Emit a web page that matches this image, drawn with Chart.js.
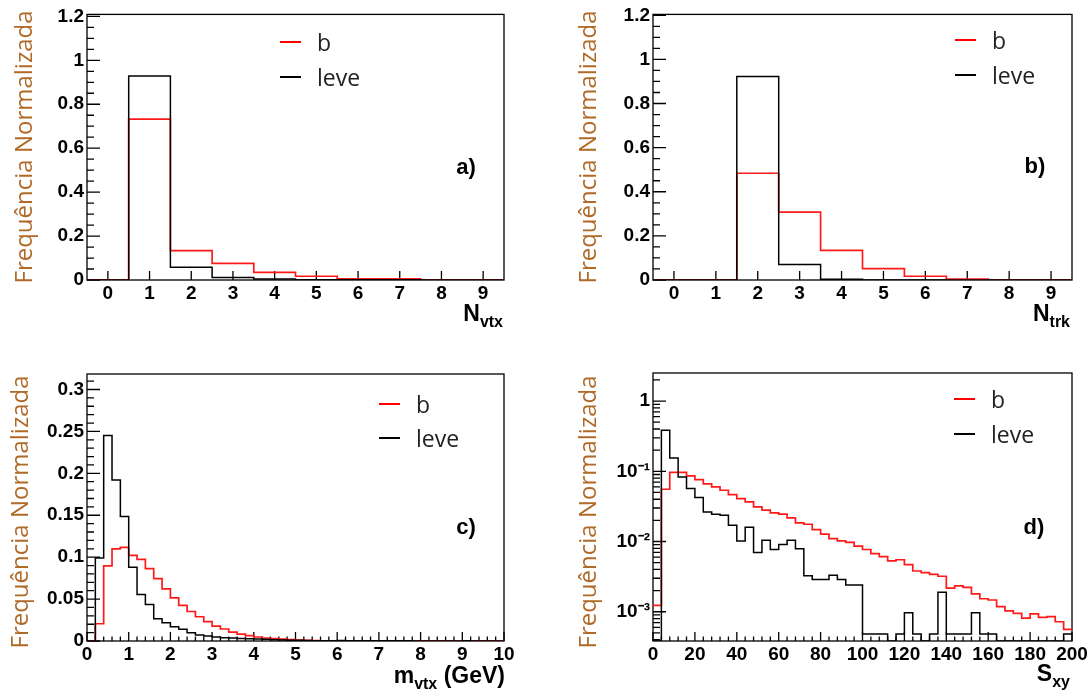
<!DOCTYPE html>
<html>
<head>
<meta charset="utf-8">
<script src="https://cdn.jsdelivr.net/npm/chart.js@4.4.1/dist/chart.umd.min.js"></script>
<style>
  body { margin: 0; background: #fff; }
  #page { position: relative; width: 1092px; height: 694px; overflow: hidden; background: #fff; }
  .pane { position: absolute; width: 546px; height: 347px; }
  .ytitle { position: absolute; transform: translate(-50%, -50%) rotate(-90deg); font: 24px "Open Sans", sans-serif;
            color: #b06a28; white-space: nowrap; line-height: 1; }
  .row { position: absolute; height: 0; }
  .row i { position: absolute; left: 0; top: -1px; width: 21px; height: 2px; }
  .row span { position: absolute; left: 37px; top: -16px; line-height: 32px; font: 23px "Open Sans", sans-serif; color: #222; white-space: nowrap; }
  .tag { position: absolute; transform: translate(-50%, -50%); font: bold 22px "Liberation Sans", sans-serif; }
  .xt { position: absolute; font: bold 23px "Liberation Sans", sans-serif; line-height: 23px; white-space: nowrap; }
  .xt sub { font-size: 16px; vertical-align: -6px; line-height: 0; }
</style>
</head>
<body>
<div id="page">
  <div class="pane" style="left:0;top:0"><canvas id="cA" width="546" height="347"></canvas></div>
  <div class="pane" style="left:546px;top:0"><canvas id="cB" width="546" height="347"></canvas></div>
  <div class="pane" style="left:0;top:347px"><canvas id="cC" width="546" height="347"></canvas></div>
  <div class="pane" style="left:546px;top:347px"><canvas id="cD" width="546" height="347"></canvas></div>

  <div class="ytitle" style="left:23px;top:147px">Frequência Normalizada</div>
  <div class="ytitle" style="left:587px;top:147px">Frequência Normalizada</div>
  <div class="ytitle" style="left:19px;top:512px">Frequência Normalizada</div>
  <div class="ytitle" style="left:587px;top:512px">Frequência Normalizada</div>

  <div class="row" style="left:280px;top:42px"><i style="background:#f00"></i><span>b</span></div>
  <div class="row" style="left:280px;top:77px"><i style="background:#000"></i><span>leve</span></div>
  <div class="row" style="left:955px;top:40px"><i style="background:#f00"></i><span>b</span></div>
  <div class="row" style="left:955px;top:75px"><i style="background:#000"></i><span>leve</span></div>
  <div class="row" style="left:379px;top:404px"><i style="background:#f00"></i><span>b</span></div>
  <div class="row" style="left:379px;top:438px"><i style="background:#000"></i><span>leve</span></div>
  <div class="row" style="left:954px;top:399px"><i style="background:#f00"></i><span>b</span></div>
  <div class="row" style="left:954px;top:434px"><i style="background:#000"></i><span>leve</span></div>

  <div class="tag" style="left:466px;top:167px">a)</div>
  <div class="tag" style="left:1035px;top:166px">b)</div>
  <div class="tag" style="left:466px;top:527px">c)</div>
  <div class="tag" style="left:1034px;top:527px">d)</div>

  <div class="xt" style="right:589px;top:302px">N<sub>vtx</sub></div>
  <div class="xt" style="right:22px;top:302px">N<sub>trk</sub></div>
  <div class="xt" style="right:587px;top:664px">m<sub>vtx</sub> (GeV)</div>
  <div class="xt" style="right:22px;top:662px">S<sub>xy</sub></div>
</div>

<script>
// a) number of vertices
const nvtxBins = [0, 1, 2, 3, 4, 5, 6, 7, 8, 9];
const nvtxB    = [0, 0.732, 0.134, 0.076, 0.035, 0.017, 0.005, 0.005, 0, 0];
const nvtxLeve = [0, 0.929, 0.058, 0.011, 0.004, 0.001, 0.001, 0.001, 0, 0];

// b) number of tracks
const ntrkBins = [0, 1, 2, 3, 4, 5, 6, 7, 8, 9];
const ntrkB    = [0, 0, 0.484, 0.308, 0.134, 0.052, 0.017, 0.004, 0, 0];
const ntrkLeve = [0, 0, 0.922, 0.070, 0.003, 0.0005, 0, 0, 0, 0];

// c) vertex mass, bins of 0.2 GeV (centres)
const mvtxBins = [0.1, 0.3, 0.5, 0.7, 0.9, 1.1, 1.3, 1.5, 1.7, 1.9, 2.1, 2.3, 2.5, 2.7, 2.9, 3.1, 3.3, 3.5, 3.7, 3.9,
                  4.1, 4.3, 4.5, 4.7, 4.9, 5.1, 5.3, 5.5, 5.7, 5.9, 6.1, 6.3, 6.5, 6.7, 6.9, 7.1, 7.3, 7.5, 7.7, 7.9,
                  8.1, 8.3, 8.5, 8.7, 8.9, 9.1, 9.3, 9.5, 9.7, 9.9];
const mvtxB    = [0, 0.0206, 0.0895, 0.110, 0.1117, 0.1022, 0.0974, 0.0863, 0.0745, 0.0622, 0.0515, 0.0424, 0.0352, 0.0289,
                  0.023, 0.0178, 0.0143, 0.0107, 0.0083, 0.0063, 0.0048, 0.0036, 0.0028, 0.0022, 0.0016, 0.0012, 0.0008,
                  0.0004, 0, 0, 0, 0, 0, 0, 0, 0, 0, 0, 0, 0, 0, 0, 0, 0, 0, 0, 0, 0, 0, 0];
const mvtxLeve = [0, 0.099, 0.245, 0.192, 0.1485, 0.088, 0.0554, 0.0436, 0.0265, 0.0218, 0.017, 0.0139, 0.0099, 0.0071,
                  0.006, 0.0048, 0.004, 0.0036, 0.003, 0.0028, 0.0024, 0.002, 0.0016, 0.0012, 0.001, 0.0008, 0.0006,
                  0.0004, 0.0003, 0.0004, 0.0005, 0.0003, 0.0002, 0.0003, 0.0002, 0.0002, 0.0003, 0.0004, 0.0002, 0.0001,
                  0, 0.0001, 0, 0, 0, 0.0002, 0, 0, 0, 0];

// d) S_xy, bins of 4 (centres)
const sxyBins = [2, 6, 10, 14, 18, 22, 26, 30, 34, 38, 42, 46, 50, 54, 58, 62, 66, 70, 74, 78, 82, 86, 90, 94, 98,
                 102, 106, 110, 114, 118, 122, 126, 130, 134, 138, 142, 146, 150, 154, 158, 162, 166, 170, 174, 178,
                 182, 186, 190, 194, 198];
const sxyB    = [0.00123, 0.0555, 0.0968, 0.0968, 0.0859, 0.0762, 0.066, 0.0598, 0.0537, 0.0466, 0.0409, 0.0366, 0.0311,
                 0.0279, 0.0256, 0.0245, 0.0217, 0.0184, 0.0176, 0.0148, 0.0127, 0.011, 0.0102, 0.0097, 0.0086, 0.0077,
                 0.0067, 0.0061, 0.0053, 0.0055, 0.0047, 0.0038, 0.0036, 0.0034, 0.0032, 0.00217, 0.00234, 0.00222,
                 0.0018, 0.00153, 0.00147, 0.00118, 0.00103, 0.00095, 0.00081, 0.00093, 0.00083, 0.00085, 0.00072, 0.00056];
const sxyLeve = [0, 0.383, 0.155, 0.083, 0.0567, 0.0422, 0.0264, 0.0245, 0.0237, 0.0171, 0.0102, 0.016, 0.00698,
                 0.0104, 0.0077, 0.0091, 0.0104, 0.0079, 0.00325, 0.00288, 0.00288, 0.00332, 0.00288, 0.0024, 0.0024,
                 0.00048, 0.00048, 0.00048, 0, 0.00048, 0.00097, 0.00048, 0, 0.00048, 0.0019, 0.00048, 0.00048, 0.00048,
                 0.00097, 0.00048, 0.00048, 0, 0, 0, 0, 0, 0, 0, 0, 0.00048];

// tick labels
const nYTicks = [0, 0.2, 0.4, 0.6, 0.8, 1, 1.2];
const nXTicks = [0, 1, 2, 3, 4, 5, 6, 7, 8, 9];
const mYTicks = [0, 0.05, 0.1, 0.15, 0.2, 0.25, 0.3];
const mXTicks = [0, 1, 2, 3, 4, 5, 6, 7, 8, 9, 10];
const sYTicks = [0.001, 0.01, 0.1, 1];
const sYLabels = ['10⁻³', '10⁻²', '10⁻¹', '1'];
const sXTicks = [0, 20, 40, 60, 80, 100, 120, 140, 160, 180, 200];

Chart.defaults.font.family = '"Liberation Sans", Arial, sans-serif';
Chart.defaults.font.size = 19;
Chart.defaults.font.weight = 'bold';
Chart.defaults.color = '#000';

function steps(from, to, step) {
    const out = [];
    for (let v = from; v <= to + 1e-9; v += step) out.push(+v.toFixed(6));
    return out;
}
function logMinor(lo, hi) {
    const out = [];
    for (let e = -4; e <= 0; e++) {
        for (let k = 2; k <= 9; k++) {
            const v = k * Math.pow(10, e);
            if (v > lo && v < hi) out.push(v);
        }
    }
    return out;
}

// frame and ROOT style inward tick marks, drawn below the histograms
const rootFrame = {
    id: 'rootFrame',
    beforeDatasetsDraw(chart, args, o) {
        const ctx = chart.ctx, a = chart.chartArea, sx = chart.scales.x, sy = chart.scales.y;
        ctx.save();
        ctx.strokeStyle = '#000';
        ctx.lineWidth = 1.3;
        ctx.beginPath();
        o.xMajor.forEach(v => { const p = sx.getPixelForValue(v); ctx.moveTo(p, a.bottom); ctx.lineTo(p, a.bottom - 9); });
        o.xMinor.forEach(v => { const p = sx.getPixelForValue(v); ctx.moveTo(p, a.bottom); ctx.lineTo(p, a.bottom - 4.5); });
        o.yMajor.forEach(v => { const p = sy.getPixelForValue(v); ctx.moveTo(a.left, p); ctx.lineTo(a.left + 13, p); });
        o.yMinor.forEach(v => { const p = sy.getPixelForValue(v); ctx.moveTo(a.left, p); ctx.lineTo(a.left + 7, p); });
        ctx.stroke();
        ctx.strokeRect(a.left, a.top, a.right - a.left, a.bottom - a.top);
        ctx.restore();
    }
};

function histData(centers, values, width, floor) {
    const pts = centers.map((c, i) => ({ x: c - width / 2, y: values[i] > 0 ? values[i] : floor }));
    pts.push({ x: centers[centers.length - 1] + width / 2, y: pts[pts.length - 1].y });
    return pts;
}

function makeChart(id, p) {
    return new Chart(document.getElementById(id), {
        type: 'line',
        data: {
            datasets: [
                { data: histData(p.bins, p.leve, p.width, p.floor), borderColor: '#000', borderWidth: 1.5 },
                { data: histData(p.bins, p.b, p.width, p.floor), borderColor: '#ff1a1a', borderWidth: 1.7 }
            ]
        },
        options: {
            responsive: false,
            animation: false,
            events: [],
            elements: { point: { radius: 0 }, line: { stepped: 'before', tension: 0, fill: false } },
            layout: { padding: { left: 0, top: p.top, right: p.right, bottom: 0 } },
            plugins: { legend: { display: false }, tooltip: { enabled: false }, rootFrame: p.marks },
            scales: {
                x: {
                    type: 'linear', min: p.xMin, max: p.xMax,
                    grid: { display: false, drawTicks: false }, border: { display: false },
                    afterBuildTicks: s => { s.ticks = p.xTicks.map(v => ({ value: v })); },
                    afterFit: s => { s.height = 347 - p.bottom; },
                    ticks: { autoSkip: false, maxRotation: 0, padding: 2, callback: v => String(v) }
                },
                y: {
                    type: p.logY ? 'logarithmic' : 'linear', min: p.yMin, max: p.yMax,
                    grid: { display: false, drawTicks: false }, border: { display: false },
                    afterBuildTicks: s => { s.ticks = p.yTicks.map(v => ({ value: v })); },
                    afterFit: s => { s.width = p.left; },
                    ticks: { autoSkip: false, padding: 3, callback: (v, i) => p.yLabels ? p.yLabels[i] : String(+(+v).toFixed(2)) }
                }
            }
        },
        plugins: [rootFrame]
    });
}

makeChart('cA', {
    bins: nvtxBins, b: nvtxB, leve: nvtxLeve, width: 1, floor: 0,
    xMin: -0.5, xMax: 9.5, yMin: 0, yMax: 1.209, xTicks: nXTicks, yTicks: nYTicks,
    left: 87, right: 42, top: 13, bottom: 280,
    marks: { xMajor: nXTicks, xMinor: [], yMajor: nYTicks, yMinor: steps(0.05, 1.2, 0.05) }
});
makeChart('cB', {
    bins: ntrkBins, b: ntrkB, leve: ntrkLeve, width: 1, floor: 0,
    xMin: -0.5, xMax: 9.5, yMin: 0, yMax: 1.204, xTicks: nXTicks, yTicks: nYTicks,
    left: 107, right: 20, top: 13, bottom: 280,
    marks: { xMajor: nXTicks, xMinor: [], yMajor: nYTicks, yMinor: steps(0.05, 1.2, 0.05) }
});
makeChart('cC', {
    bins: mvtxBins, b: mvtxB, leve: mvtxLeve, width: 0.2, floor: 0,
    xMin: 0, xMax: 10, yMin: 0, yMax: 0.3185, xTicks: mXTicks, yTicks: mYTicks,
    left: 87, right: 42, top: 27, bottom: 294,
    marks: { xMajor: mXTicks, xMinor: steps(0.2, 10, 0.2), yMajor: mYTicks, yMinor: steps(0.01, 0.31, 0.01) }
});
makeChart('cD', {
    bins: sxyBins, b: sxyB, leve: sxyLeve, width: 4, floor: 0.000383,
    xMin: 0, xMax: 200, yMin: 0.000383, yMax: 2.51, logY: true, xTicks: sXTicks, yTicks: sYTicks, yLabels: sYLabels,
    left: 107, right: 20, top: 26, bottom: 294,
    marks: { xMajor: sXTicks, xMinor: steps(4, 200, 4), yMajor: sYTicks, yMinor: logMinor(0.000383, 2.51) }
});
</script>
</body>
</html>
